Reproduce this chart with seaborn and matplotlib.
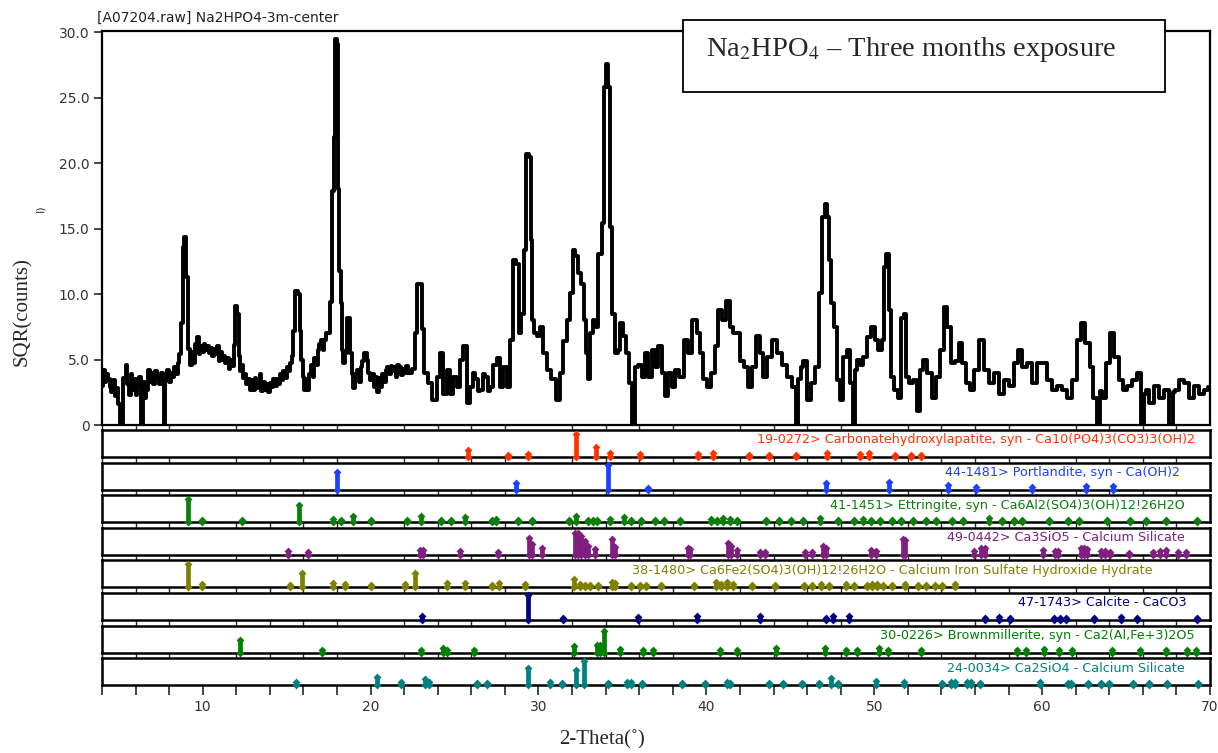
import matplotlib
matplotlib.use("Agg")
import matplotlib.pyplot as plt
from matplotlib.patches import Rectangle
import seaborn as sns

# Measured pattern, 2-theta (deg) vs square-root counts
two_theta = [
    4.00, 4.10, 4.20, 4.30, 4.40, 4.50, 4.60, 4.70, 4.80, 4.90,
    5.00, 5.10, 5.35, 5.45, 5.55, 5.65, 5.75, 5.85, 5.95, 6.05,
    6.15, 6.30, 6.40, 6.48, 6.60, 6.70, 6.80, 6.90, 7.00, 7.10,
    7.20, 7.30, 7.45, 7.55, 7.68, 7.75, 7.80, 7.95, 8.05, 8.15,
    8.25, 8.35, 8.45, 8.55, 8.65, 8.75, 8.85, 8.95, 9.08, 9.20,
    9.30, 9.40, 9.50, 9.60, 9.70, 9.80, 9.90, 10.00, 10.10, 10.20,
    10.30, 10.40, 10.50, 10.60, 10.70, 10.80, 10.90, 11.00, 11.10, 11.20,
    11.30, 11.40, 11.50, 11.60, 11.70, 11.80, 11.90, 11.98, 12.10, 12.18,
    12.25, 12.35, 12.45, 12.55, 12.65, 12.75, 12.85, 12.95, 13.05, 13.15,
    13.25, 13.35, 13.45, 13.55, 13.65, 13.75, 13.85, 13.95, 14.05, 14.15,
    14.25, 14.35, 14.45, 14.55, 14.65, 14.75, 14.85, 14.95, 15.05, 15.15,
    15.25, 15.35, 15.45, 15.58, 15.72, 15.82, 15.90, 16.00, 16.10, 16.20,
    16.30, 16.40, 16.50, 16.60, 16.70, 16.80, 16.90, 17.00, 17.10, 17.20,
    17.30, 17.40, 17.52, 17.62, 17.75, 17.85, 17.92, 18.02, 18.10, 18.18,
    18.25, 18.32, 18.42, 18.52, 18.62, 18.75, 18.82, 18.92, 19.02, 19.12,
    19.22, 19.35, 19.45, 19.55, 19.70, 19.82, 19.92, 20.02, 20.12, 20.25,
    20.35, 20.45, 20.55, 20.65, 20.75, 20.85, 20.95, 21.05, 21.15, 21.25,
    21.35, 21.45, 21.55, 21.65, 21.75, 21.85, 21.95, 22.05, 22.15, 22.35,
    22.54, 22.74, 22.84, 23.04, 23.14, 23.24, 23.54, 23.83, 24.03, 24.23,
    24.43, 24.63, 24.83, 25.03, 25.22, 25.42, 25.62, 25.82, 26.02, 26.17,
    26.32, 26.46, 26.61, 26.76, 26.91, 27.06, 27.21, 27.41, 27.61, 27.80,
    28.00, 28.20, 28.40, 28.60, 28.74, 28.90, 29.05, 29.19, 29.33, 29.49,
    29.59, 29.69, 29.79, 29.99, 30.19, 30.39, 30.58, 30.88, 31.18, 31.38,
    31.58, 31.78, 31.97, 32.11, 32.27, 32.47, 32.63, 32.77, 32.91, 33.03,
    33.16, 33.30, 33.46, 33.66, 33.86, 34.00, 34.10, 34.22, 34.32, 34.46,
    34.65, 34.81, 34.95, 35.15, 35.31, 35.49, 35.65, 35.85, 36.04, 36.24,
    36.44, 36.64, 36.84, 37.04, 37.24, 37.43, 37.63, 37.83, 38.03, 38.23,
    38.52, 38.82, 39.02, 39.32, 39.52, 39.72, 39.91, 40.11, 40.41, 40.61,
    40.81, 41.01, 41.30, 41.50, 41.70, 41.90, 42.10, 42.40, 42.59, 42.79,
    43.09, 43.29, 43.49, 43.79, 44.08, 44.38, 44.68, 44.98, 45.27, 45.41,
    45.55, 45.67, 45.87, 46.07, 46.37, 46.57, 46.86, 46.96, 47.12, 47.26,
    47.36, 47.50, 47.66, 47.86, 48.05, 48.25, 48.45, 48.65, 48.81, 48.93,
    49.05, 49.25, 49.44, 49.64, 49.94, 50.14, 50.34, 50.54, 50.67, 50.79,
    50.93, 51.09, 51.29, 51.53, 51.69, 51.83, 51.97, 52.16, 52.42, 52.62,
    52.82, 53.02, 53.32, 53.55, 53.81, 54.07, 54.25, 54.47, 54.67, 54.90,
    55.14, 55.34, 55.60, 55.80, 56.06, 56.39, 56.69, 56.99, 57.29, 57.58,
    57.88, 58.18, 58.48, 58.68, 58.97, 59.27, 59.57, 59.87, 60.16, 60.46,
    60.76, 61.06, 61.36, 61.65, 61.95, 62.21, 62.45, 62.71, 62.94, 63.14,
    63.40, 63.52, 63.64, 63.94, 64.19, 64.43, 64.67, 64.93, 65.23, 65.53,
    65.78, 66.02, 66.14, 66.26, 66.52, 66.81, 67.11, 67.41, 67.71, 67.83,
    68.01, 68.30, 68.60, 68.90, 69.20, 69.50, 69.79, 70.00,
]
sqr_counts = [
    3.0, 4.2, 3.3, 3.9, 3.5, 2.9, 2.5, 3.4, 2.2, 2.8,
    1.6, 0.0, 3.6, 4.6, 3.1, 2.3, 3.9, 2.7, 3.5, 2.3,
    3.1, 3.7, 0.0, 3.3, 2.1, 2.7, 4.2, 3.3, 4.0, 3.1,
    4.1, 3.6, 3.1, 4.0, 3.3, 0.0, 3.5, 4.2, 3.3, 4.0,
    3.7, 4.4, 3.9, 4.7, 5.4, 7.8, 13.6, 14.4, 11.3, 5.8,
    4.6, 5.6, 4.7, 6.2, 6.7, 5.4, 6.0, 5.6, 6.2, 5.7,
    6.0, 5.5, 5.9, 5.3, 5.8, 5.4, 6.0, 4.9, 5.6, 5.0,
    5.3, 4.7, 5.1, 4.3, 5.0, 4.5, 6.1, 9.1, 8.5, 5.3,
    4.1, 4.6, 3.6, 3.9, 3.1, 3.5, 2.7, 3.4, 2.7, 3.6,
    2.8, 3.0, 3.9, 2.6, 3.3, 2.7, 3.1, 2.5, 3.2, 2.9,
    3.5, 3.0, 3.5, 3.1, 3.9, 3.4, 4.1, 3.6, 4.4, 4.1,
    4.7, 5.3, 7.2, 10.2, 10.0, 7.2, 5.0, 3.7, 2.7, 3.5,
    2.7, 3.9, 4.6, 3.7, 5.1, 4.6, 5.7, 6.2, 6.5, 5.7,
    6.5, 7.0, 7.0, 9.4, 17.9, 22.0, 29.5, 29.1, 18.0, 11.8,
    9.3, 5.7, 4.7, 5.5, 8.2, 8.2, 5.5, 3.9, 2.8, 3.9,
    4.2, 3.3, 4.4, 4.9, 5.5, 5.0, 4.0, 3.4, 3.9, 2.9,
    3.7, 2.5, 3.6, 2.9, 3.9, 3.3, 4.2, 4.4, 3.9, 4.5,
    4.1, 4.4, 3.7, 4.6, 4.4, 3.8, 4.3, 4.0, 4.5, 4.0,
    4.3, 7.0, 10.8, 10.8, 7.3, 4.0, 3.2, 1.9, 3.7, 5.5,
    2.4, 4.2, 2.4, 3.7, 2.9, 5.0, 6.0, 1.7, 2.9, 4.0,
    3.5, 2.6, 2.7, 3.9, 3.7, 2.6, 2.9, 4.6, 5.1, 2.9,
    4.4, 2.9, 6.5, 12.6, 12.3, 7.0, 8.5, 13.4, 20.7, 20.5,
    14.1, 8.0, 7.0, 6.8, 7.5, 5.5, 4.2, 3.5, 1.9, 4.0,
    6.4, 8.0, 10.1, 13.4, 12.9, 11.6, 10.8, 8.0, 5.5, 3.5,
    7.0, 8.0, 7.5, 13.1, 15.4, 25.8, 27.6, 25.8, 15.1, 8.5,
    5.5, 5.7, 7.8, 6.8, 5.5, 3.2, 0.0, 4.4, 4.6, 3.7,
    5.5, 3.7, 5.7, 4.4, 6.0, 4.0, 2.2, 4.0, 2.9, 4.2,
    3.7, 6.5, 5.5, 8.0, 7.0, 5.5, 3.5, 2.9, 4.0, 6.0,
    8.8, 8.0, 9.5, 7.5, 7.0, 7.0, 4.9, 4.4, 2.9, 4.4,
    6.8, 5.5, 3.7, 5.2, 6.5, 5.5, 4.6, 3.7, 2.9, 0.0,
    3.5, 4.4, 4.9, 1.9, 3.2, 4.4, 10.1, 15.9, 16.9, 15.9,
    12.6, 9.3, 7.5, 3.4, 1.9, 5.2, 5.7, 3.2, 0.0, 4.2,
    5.0, 4.6, 5.2, 6.7, 7.5, 6.5, 5.7, 6.5, 12.1, 13.1,
    8.8, 3.7, 2.7, 2.1, 8.2, 8.5, 3.7, 3.2, 3.4, 1.1,
    4.2, 5.0, 4.0, 2.1, 3.7, 5.7, 9.0, 7.5, 4.7, 4.9,
    6.3, 4.7, 3.2, 2.7, 4.2, 6.5, 4.2, 3.2, 4.0, 2.4,
    3.4, 3.0, 4.7, 5.7, 4.4, 4.7, 3.2, 4.7, 4.7, 3.4,
    2.7, 3.0, 2.7, 2.1, 3.4, 6.5, 7.8, 6.3, 4.4, 2.1,
    0.0, 2.6, 2.1, 4.7, 7.0, 5.2, 3.4, 2.7, 3.0, 3.4,
    4.0, 0.0, 2.4, 2.7, 1.7, 3.0, 2.1, 2.7, 0.0, 2.5,
    2.7, 3.4, 3.2, 2.1, 3.0, 2.4, 2.7, 2.9,
]

y_ticks = [0, 5, 10, 15, 20, 25, 30]
y_tick_labels = ["0", "5.0", "10.0", "15.0", "20.0", "25.0", "30.0"]
x_ticks = [10, 20, 30, 40, 50, 60, 70]

# Reference cards: stick positions (2-theta) and relative intensity (%)
cha_pos = [25.82, 28.20, 29.39, 32.23, 33.42, 34.26, 36.04, 39.50, 40.42, 42.56,
           43.76, 45.31, 47.20, 49.13, 49.70, 51.25, 52.20, 52.78]
cha_int = [30, 10, 12, 92, 42, 15, 12, 12, 15, 10,
           10, 10, 15, 12, 15, 10, 10, 10]

port_pos = [18.01, 28.68, 34.12, 36.54, 47.15, 50.85, 54.40, 56.07, 59.42, 62.62, 64.25]
port_int = [72, 28, 100, 8, 25, 30, 18, 10, 10, 14, 15]

ett_pos = [9.10, 9.97, 12.32, 15.75, 17.78, 18.25, 18.97, 20.02, 22.15, 22.98,
           24.18, 24.77, 25.62, 27.23, 27.48, 28.80, 29.62, 31.83, 32.23, 32.97,
           33.26, 33.46, 34.25, 35.07, 35.54, 36.10, 36.94, 37.45, 38.40, 40.30,
           40.65, 41.00, 41.40, 41.80, 43.56, 44.31, 45.07, 45.77, 46.75, 47.82,
           48.82, 49.32, 49.83, 50.33, 51.08, 51.58, 52.30, 53.10, 53.70, 54.65,
           55.30, 56.82, 57.60, 58.30, 58.80, 60.38, 61.52, 62.20, 63.85, 65.25,
           66.20, 67.38, 69.25]
ett_int = [95, 10, 10, 70, 15, 10, 25, 10, 10, 25,
           10, 10, 20, 10, 15, 10, 10, 10, 25, 10,
           10, 10, 12, 22, 10, 10, 10, 10, 10, 15,
           10, 18, 15, 10, 10, 10, 10, 10, 18, 10,
           10, 12, 10, 10, 10, 10, 10, 10, 10, 10,
           10, 18, 10, 10, 10, 10, 10, 10, 10, 10,
           10, 10, 10]

c3s_pos = [15.06, 16.25, 22.95, 23.12, 25.32, 27.60, 29.45, 29.60, 30.22, 32.20,
           32.37, 32.55, 32.75, 32.95, 33.36, 34.40, 34.55, 38.90, 39.05, 41.30,
           41.45, 41.80, 43.20, 43.50, 45.90, 46.30, 46.95, 47.15, 49.80, 50.10,
           51.70, 51.85, 55.95, 56.35, 56.60, 60.05, 60.75, 60.95, 62.30, 62.50,
           62.70, 63.50, 63.75, 64.05, 65.20, 66.60, 67.05, 67.35, 68.10, 68.60]
c3s_int = [15, 10, 18, 18, 15, 10, 70, 45, 28, 90,
           88, 75, 55, 35, 22, 65, 30, 28, 25, 50,
           35, 20, 10, 10, 12, 12, 35, 28, 18, 15,
           65, 60, 15, 28, 28, 18, 14, 14, 28, 28,
           25, 14, 14, 12, 8, 12, 14, 18, 12, 12]

cfs_pos = [9.10, 9.97, 15.20, 15.89, 17.78, 18.49, 20.04, 22.05, 22.64, 24.55,
           25.62, 27.23, 27.62, 29.20, 32.13, 32.48, 32.80, 33.06, 33.56, 34.40,
           34.55, 35.54, 36.04, 36.40, 37.30, 39.25, 40.55, 40.90, 41.25, 41.60,
           42.70, 44.07, 45.80, 46.30, 46.80, 47.30, 48.30, 48.80, 49.55, 49.85,
           50.15, 50.50, 51.05, 51.83, 52.60, 53.10, 53.60, 54.05, 54.84]
cfs_int = [95, 15, 10, 60, 18, 12, 10, 15, 60, 18,
           18, 10, 18, 12, 35, 12, 10, 10, 10, 22,
           18, 10, 10, 10, 10, 10, 20, 15, 20, 12,
           10, 10, 10, 10, 12, 10, 15, 10, 10, 12,
           15, 10, 10, 15, 10, 10, 10, 10, 12]

calc_pos = [23.08, 29.40, 31.44, 35.95, 39.45, 43.17, 47.15, 47.55, 48.52, 56.58,
            57.43, 58.10, 60.70, 61.05, 61.40, 63.08, 64.70, 65.65, 69.25]
calc_int = [15, 100, 8, 14, 18, 18, 10, 18, 18, 8,
            14, 8, 8, 8, 8, 8, 14, 8, 8]

brm_pos = [12.20, 17.08, 23.02, 24.30, 24.58, 26.18, 32.13, 33.50, 33.65, 33.90,
           34.85, 36.24, 36.84, 40.80, 41.80, 44.13, 47.07, 48.32, 48.95, 50.28,
           50.83, 52.78, 58.50, 59.05, 60.12, 60.98, 61.78, 64.15, 65.82, 67.36,
           68.65, 69.15]
brm_int = [50, 10, 12, 18, 12, 12, 25, 30, 30, 90,
           15, 10, 10, 10, 10, 18, 20, 10, 10, 18,
           10, 10, 12, 10, 15, 10, 10, 10, 10, 10,
           10, 10]

c2s_pos = [15.53, 20.38, 21.80, 23.24, 23.50, 26.31, 26.91, 29.39, 30.68, 31.43,
           32.25, 32.71, 34.14, 35.27, 35.54, 36.16, 38.54, 39.92, 41.20, 41.40,
           43.76, 44.56, 45.69, 46.69, 47.45, 47.82, 50.08, 51.76, 54.05, 54.55,
           54.80, 55.55, 55.75, 56.28, 59.85, 61.52, 61.72, 62.75, 63.50, 63.96,
           65.42, 66.34, 67.44, 69.28]
c2s_int = [15, 35, 15, 25, 12, 10, 10, 70, 15, 10,
           60, 100, 10, 12, 12, 10, 10, 10, 14, 10,
           10, 10, 10, 10, 30, 10, 18, 15, 10, 12,
           12, 14, 12, 10, 15, 10, 10, 10, 10, 10,
           10, 10, 10, 10]

phase_labels = [
    "19-0272> Carbonatehydroxylapatite, syn - Ca10(PO4)3(CO3)3(OH)2",
    "44-1481> Portlandite, syn - Ca(OH)2",
    "41-1451> Ettringite, syn - Ca6Al2(SO4)3(OH)12!26H2O",
    "49-0442> Ca3SiO5 - Calcium Silicate",
    "38-1480> Ca6Fe2(SO4)3(OH)12!26H2O - Calcium Iron Sulfate Hydroxide Hydrate",
    "47-1743> Calcite - CaCO3",
    "30-0226> Brownmillerite, syn - Ca2(Al,Fe+3)2O5",
    "24-0034> Ca2SiO4 - Calcium Silicate",
]
phase_colors = ["#ff3300", "#1f3fff", "#0a800a", "#801f80",
                "#808000", "#000080", "#008000", "#008080"]
label_right_px = [1195, 1180, 1185, 1185, 1152, 1187, 1195, 1185]

phases = [(cha_pos, cha_int), (port_pos, port_int), (ett_pos, ett_int),
          (c3s_pos, c3s_int), (cfs_pos, cfs_int), (calc_pos, calc_int),
          (brm_pos, brm_int), (c2s_pos, c2s_int)]

sns.set_theme(style="ticks")
plt.rcParams["font.family"] = ["DejaVu Sans"]
plt.rcParams["mathtext.fontset"] = "stix"
serif = ["Liberation Serif", "DejaVu Serif"]

W, H = 1218, 753
fig = plt.figure(figsize=(W / 100, H / 100), dpi=100)


def px_rect(x0, y0, x1, y1):
    return [x0 / W, 1 - y1 / H, (x1 - x0) / W, (y1 - y0) / H]


# main pattern
ax = fig.add_axes(px_rect(102, 31, 1210, 425))
sns.lineplot(x=two_theta, y=sqr_counts, ax=ax, color="black", lw=2.8,
             drawstyle="steps-mid", estimator=None, sort=False)
ax.set_xlim(4, 70)
ax.set_ylim(0, 30.1)
ax.set_yticks(y_ticks)
ax.set_yticklabels(y_tick_labels)
ax.tick_params(axis="y", direction="out", length=6, width=1.2, labelsize=10,
               labelcolor="#333333", pad=3)
ax.tick_params(axis="x", bottom=False, labelbottom=False)
for s in ax.spines.values():
    s.set_linewidth(1.6)
    s.set_color("black")
    s.set_visible(True)

# stick pattern panels
for i, ((pos, inten), col) in enumerate(zip(phases, phase_colors)):
    top = 430 + i * 32.6
    pax = fig.add_axes(px_rect(102, top, 1210, top + 27), sharex=ax)
    pax.set_ylim(0, 110)
    pax.vlines(pos, 0, inten, color=col, lw=3.4, zorder=3)
    sns.scatterplot(x=pos, y=[0] * len(pos), ax=pax, marker="D", s=16, color=col,
                    linewidth=0, clip_on=False, zorder=4)
    sns.scatterplot(x=pos, y=inten, ax=pax, marker="D", s=16, color=col,
                    linewidth=0, clip_on=False, zorder=4)
    pax.set_yticks([])
    pax.set_ylabel("")
    for s in pax.spines.values():
        s.set_linewidth(1.8)
        s.set_color("black")
        s.set_visible(True)
    fig.text(label_right_px[i] / W, 1 - (top + 10) / H, phase_labels[i],
             ha="right", va="center", color=col, fontsize=9.2)
    if i < len(phases) - 1:
        pax.tick_params(axis="x", bottom=False, labelbottom=False)
    else:
        pax.set_xticks(x_ticks)
        pax.set_xticks(range(4, 71, 2), minor=True)
        pax.tick_params(axis="x", which="both", direction="out", length=7,
                        width=1.2, labelsize=10, labelcolor="#333333", pad=4)

ax.set_xlim(4, 70)

fig.text(97 / W, 1 - 18 / H, "[A07204.raw] Na2HPO4-3m-center", fontsize=10,
         va="center", ha="left", color="#222222")
fig.text(40 / W, 1 - 208 / H, "I)", fontsize=8, rotation=90, va="center",
         ha="center", color="#333333")
fig.text(22 / W, 1 - 312 / H, "SQR(counts)", rotation=90, va="center",
         ha="center", fontsize=15, family=serif)
fig.text(602 / W, 1 - 740 / H, "2-Theta(˚)", va="center", ha="center",
         fontsize=15, family=serif)

# legend box
fig.patches.append(Rectangle((683 / W, 1 - 92 / H), (1165 - 683) / W, 72 / H,
                             transform=fig.transFigure, facecolor="white",
                             edgecolor="black", lw=1.3, zorder=10))
fig.text(706 / W, 1 - 49 / H, r"Na$_2$HPO$_4$ – Three months exposure",
         va="center", ha="left", fontsize=20.5, zorder=11, family=serif)

fig.savefig("out.png", dpi=100)
